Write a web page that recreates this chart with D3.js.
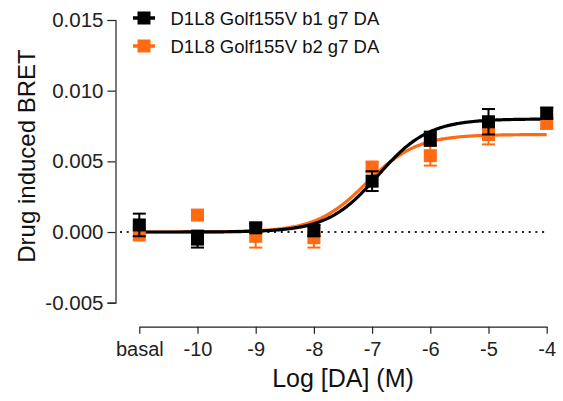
<!DOCTYPE html>
<html>
<head>
<meta charset="utf-8">
<script src="https://cdn.jsdelivr.net/npm/d3@7"></script>
<style>
  html, body { margin: 0; padding: 0; background: #fff; }
  svg { display: block; font-family: "Liberation Sans", Arial, sans-serif; }
</style>
</head>
<body>
<svg id="chart" width="563" height="401"></svg>
<script>
// Dose levels (log M); the basal condition sits one decade below -10
const doses = [-11, -10, -9, -8, -7, -6, -5, -4];
const xTickLabels = ["basal", "-10", "-9", "-8", "-7", "-6", "-5", "-4"];
const yTicks = [-0.005, 0, 0.005, 0.010, 0.015];
const yTickLabels = ["-0.005", "0.000", "0.005", "0.010", "0.015"];

const seriesNames = ["D1L8 Golf155V b1 g7 DA", "D1L8 Golf155V b2 g7 DA"];
const seriesColors = ["#000000", "#ff6a13"];

// Mean drug-induced BRET and SEM per dose
const b1Mean = [0.0005, -0.0005, 0.0003, 0.0001, 0.0036, 0.0066, 0.0078, 0.0084];
const b1Sem  = [0.0008, 0.0006, 0.0003, 0.0004, 0.0007, 0.0005, 0.0009, 0.0004];
const b2Mean = [-0.0001, 0.0012, -0.0003, -0.0004, 0.0046, 0.0054, 0.0069, 0.0077];
const b2Sem  = [0.0005, 0.0003, 0.0008, 0.0007, 0.0003, 0.0007, 0.0007, 0.0004];

// Sigmoidal dose-response fits: [bottom, top, logEC50, hill]
const b1Fit = [0.0, 0.0080, -6.9, 1.0];
const b2Fit = [0.0, 0.0069, -7.1, 1.0];

const svg = d3.select("#chart");

const x = d3.scaleLinear().domain([-11, -4]).range([139.3, 546.7]);
const y = d3.scaleLinear().domain([-0.005, 0.015]).range([302.7, 20]);

// Y axis
const yAxis = d3.axisLeft(y).tickValues(yTicks).tickSize(8).tickPadding(4)
  .tickFormat((d, i) => yTickLabels[i]);
const gy = svg.append("g").attr("transform", "translate(115.5,0)").call(yAxis);
gy.select(".domain").attr("stroke", "#222").attr("stroke-width", 1.2);
gy.selectAll(".tick line").attr("stroke", "#222").attr("stroke-width", 1.2);
gy.selectAll(".tick text").attr("font-size", 20.5).attr("fill", "#222")
  .attr("font-family", "Liberation Sans, Arial, sans-serif");

// X axis
const xAxis = d3.axisBottom(x).tickValues(doses).tickSize(7).tickPadding(8)
  .tickSizeOuter(0)
  .tickFormat((d, i) => xTickLabels[i]);
const gx = svg.append("g").attr("transform", "translate(0,326.7)").call(xAxis);
gx.select(".domain").attr("stroke", "#222").attr("stroke-width", 1.2);
gx.selectAll(".tick line").attr("stroke", "#222").attr("stroke-width", 1.2);
gx.selectAll(".tick text").attr("font-size", 20).attr("fill", "#222")
  .attr("font-family", "Liberation Sans, Arial, sans-serif");

// Axis titles
svg.append("text")
  .attr("x", 343).attr("y", 387)
  .attr("text-anchor", "middle")
  .attr("font-size", 25).attr("fill", "#111")
  .text("Log [DA] (M)");

svg.append("text")
  .attr("transform", "translate(35,156) rotate(-90)")
  .attr("text-anchor", "middle")
  .attr("font-size", 24).attr("fill", "#111")
  .text("Drug induced BRET");

// Zero reference line
svg.append("line")
  .attr("x1", 120).attr("x2", 545)
  .attr("y1", y(0)).attr("y2", y(0))
  .attr("stroke", "#222").attr("stroke-width", 2)
  .attr("stroke-dasharray", "2,4.7");

// Fitted curves
function sigmoid(p, xv) {
  const [bottom, top, ec50, hill] = p;
  return bottom + (top - bottom) / (1 + Math.pow(10, (ec50 - xv) * hill));
}
const curveX = d3.range(-11, -4 + 1e-9, 0.02);
const line = d3.line().x(d => x(d[0])).y(d => y(d[1])).curve(d3.curveLinear);

[[b2Fit, seriesColors[1]], [b1Fit, seriesColors[0]]].forEach(([p, c]) => {
  svg.append("path")
    .datum(curveX.map(v => [v, sigmoid(p, v)]))
    .attr("d", line)
    .attr("fill", "none")
    .attr("stroke", c)
    .attr("stroke-width", 3.2);
});

// Points with SEM error bars
const sq = 13, cap = 13;
function drawPoints(means, sems, color) {
  const g = svg.append("g");
  doses.forEach((d, i) => {
    const cx = x(d), m = means[i], s = sems[i];
    g.append("line")
      .attr("x1", cx).attr("x2", cx)
      .attr("y1", y(m - s)).attr("y2", y(m + s))
      .attr("stroke", color).attr("stroke-width", 2);
    [m - s, m + s].forEach(v => {
      g.append("line")
        .attr("x1", cx - cap / 2).attr("x2", cx + cap / 2)
        .attr("y1", y(v)).attr("y2", y(v))
        .attr("stroke", color).attr("stroke-width", 2);
    });
    g.append("rect")
      .attr("x", cx - sq / 2).attr("y", y(m) - sq / 2)
      .attr("width", sq).attr("height", sq)
      .attr("fill", color);
  });
}
drawPoints(b2Mean, b2Sem, seriesColors[1]);
drawPoints(b1Mean, b1Sem, seriesColors[0]);

// Legend
const legendY = [18, 46];
seriesNames.forEach((name, i) => {
  const g = svg.append("g").attr("transform", `translate(144,${legendY[i]})`);
  g.append("line").attr("x1", -11).attr("x2", 11).attr("y1", 0).attr("y2", 0)
    .attr("stroke", seriesColors[i]).attr("stroke-width", 3.5);
  g.append("rect").attr("x", -6.5).attr("y", -6.5).attr("width", 13).attr("height", 13)
    .attr("fill", seriesColors[i]);
  g.append("text").attr("x", 26.5).attr("y", 6.5)
    .attr("font-size", 18.5).attr("fill", "#111")
    .text(name);
});
</script>
</body>
</html>
